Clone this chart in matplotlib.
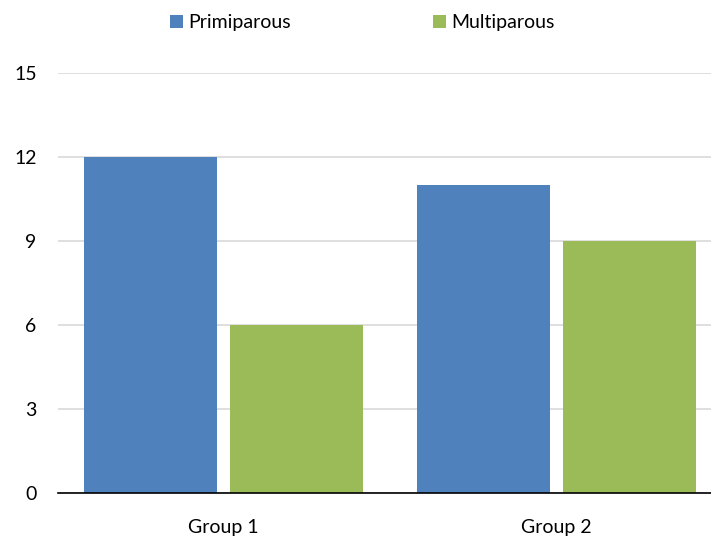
import matplotlib
matplotlib.use("Agg")
import matplotlib.pyplot as plt
import numpy as np

categories = ["Group 1", "Group 2"]
series_names = ["Primiparous", "Multiparous"]
primiparous = [12, 11]
multiparous = [6, 9]
yticks = [0, 3, 6, 9, 12, 15]

colors = ["#4F81BD", "#9BBB59"]

plt.rcParams["font.family"] = ["Lato", "DejaVu Sans"]

fig = plt.figure(figsize=(7.11, 5.38), dpi=100)
ax = fig.add_axes([57.5 / 711, 45 / 538, 665 / 711, 420 / 538])

x = np.arange(len(categories))
width = 0.4
offset = 0.22
ax.bar(x - offset, primiparous, width, color=colors[0], label=series_names[0], zorder=3)
ax.bar(x + offset, multiparous, width, color=colors[1], label=series_names[1], zorder=3)

ax.set_xlim(-0.5, 1.5)
ax.set_ylim(0, 15)
ax.set_yticks(yticks)
ax.set_yticklabels([str(t) for t in yticks], fontsize=14)
ax.set_xticks(x)
ax.set_xticklabels(categories, fontsize=14)
ax.tick_params(axis="both", length=0, colors="black")
ax.tick_params(axis="y", pad=15)
ax.tick_params(axis="x", pad=19)

ax.grid(axis="y", color="#D9D9D9", linewidth=1.2, zorder=0)
for s in ["top", "right", "left"]:
    ax.spines[s].set_visible(False)
ax.spines["bottom"].set_color("black")
ax.spines["bottom"].set_linewidth(1.2)
ax.spines["bottom"].set_zorder(4)

leg = fig.legend(loc="center left", bbox_to_anchor=(170 / 711, 1 - 22.5 / 538), ncol=2, frameon=False,
                 fontsize=14, handlelength=0.68, handleheight=0.68, handletextpad=0.26,
                 columnspacing=7.3, borderpad=0, borderaxespad=0)

fig.savefig("out.png", dpi=100)
